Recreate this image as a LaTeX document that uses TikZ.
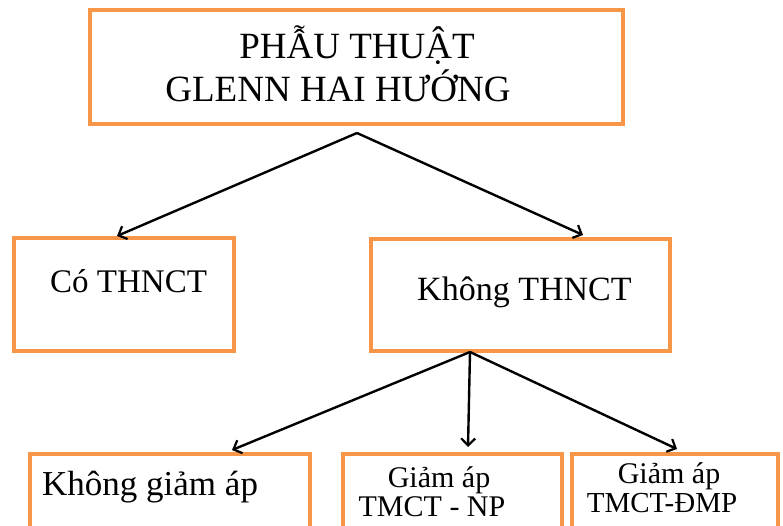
\documentclass[tikz,border=0pt]{standalone}
\usepackage{fontspec}
\setmainfont{Liberation Serif}
\usetikzlibrary{arrows.meta}
\definecolor{boxorange}{HTML}{F79646}
\begin{document}
\begin{tikzpicture}[x=1pt,y=-1pt,
  box/.style={draw=boxorange, line width=3.2pt, inner sep=0pt, fill=white},
  conn/.style={draw=black, line width=2.4pt, -{Straight Barb[length=7pt,width=14pt,line width=2.2pt]}},
  lbl/.style={inner sep=0pt, anchor=base}]
\useasboundingbox (0,0) rectangle (783,526);
\clip (0,0) rectangle (783,526);
\fill[white] (0,0) rectangle (783,526);
% boxes
\node[box, minimum width=533pt, minimum height=114pt] (top) at (356.5,67) {};
\node[box, minimum width=220pt, minimum height=113pt] (co) at (124,294.5) {};
\node[box, minimum width=299pt, minimum height=112pt] (khong) at (520.5,295) {};
\node[box, minimum width=280pt, minimum height=106pt] (kga) at (170,507) {};
\node[box, minimum width=219pt, minimum height=106pt] (ga1) at (452.5,507) {};
\node[box, minimum width=206pt, minimum height=106pt] (ga2) at (675,507) {};
% labels
\node[lbl, font=\fontsize{37}{40}\selectfont] (t1) at (357,59) {PHẪU THUẬT};
\node[lbl, font=\fontsize{37}{40}\selectfont] (t2) at (338,102) {GLENN HAI HƯỚNG};
\node[lbl, anchor=base west, font=\fontsize{33}{36}\selectfont] (tco) at (50,292) {Có THNCT};
\node[lbl, anchor=base west, font=\fontsize{34}{36}\selectfont] (tkh) at (417,300) {Không THNCT};
\node[lbl, anchor=base west, font=\fontsize{35}{38}\selectfont] (tkga) at (42,495) {Không giảm áp};
\node[lbl, font=\fontsize{30}{32}\selectfont] (tga1a) at (439,487) {Giảm áp};
\node[lbl, font=\fontsize{30}{32}\selectfont] (tga1b) at (432,516) {TMCT - NP};
\node[lbl, font=\fontsize{30}{32}\selectfont] (tga2a) at (669,483) {Giảm áp};
\node[lbl, font=\fontsize{29}{32}\selectfont] (tga2b) at (662,512) {TMCT-ĐMP};
% connector points
\coordinate (a1) at (357,133);
\coordinate (e1) at (117,236);
\coordinate (e2) at (583,235);
\coordinate (a2) at (470,352);
\coordinate (e3) at (232,450);
\coordinate (e4) at (468,447);
\coordinate (e5) at (677,449);
\draw[conn] (a1) -- (e1);
\draw[conn] (a1) -- (e2);
\draw[conn] (a2) -- (e3);
\draw[conn] (a2) -- (e4);
\draw[conn] (a2) -- (e5);
\end{tikzpicture}
\end{document}
